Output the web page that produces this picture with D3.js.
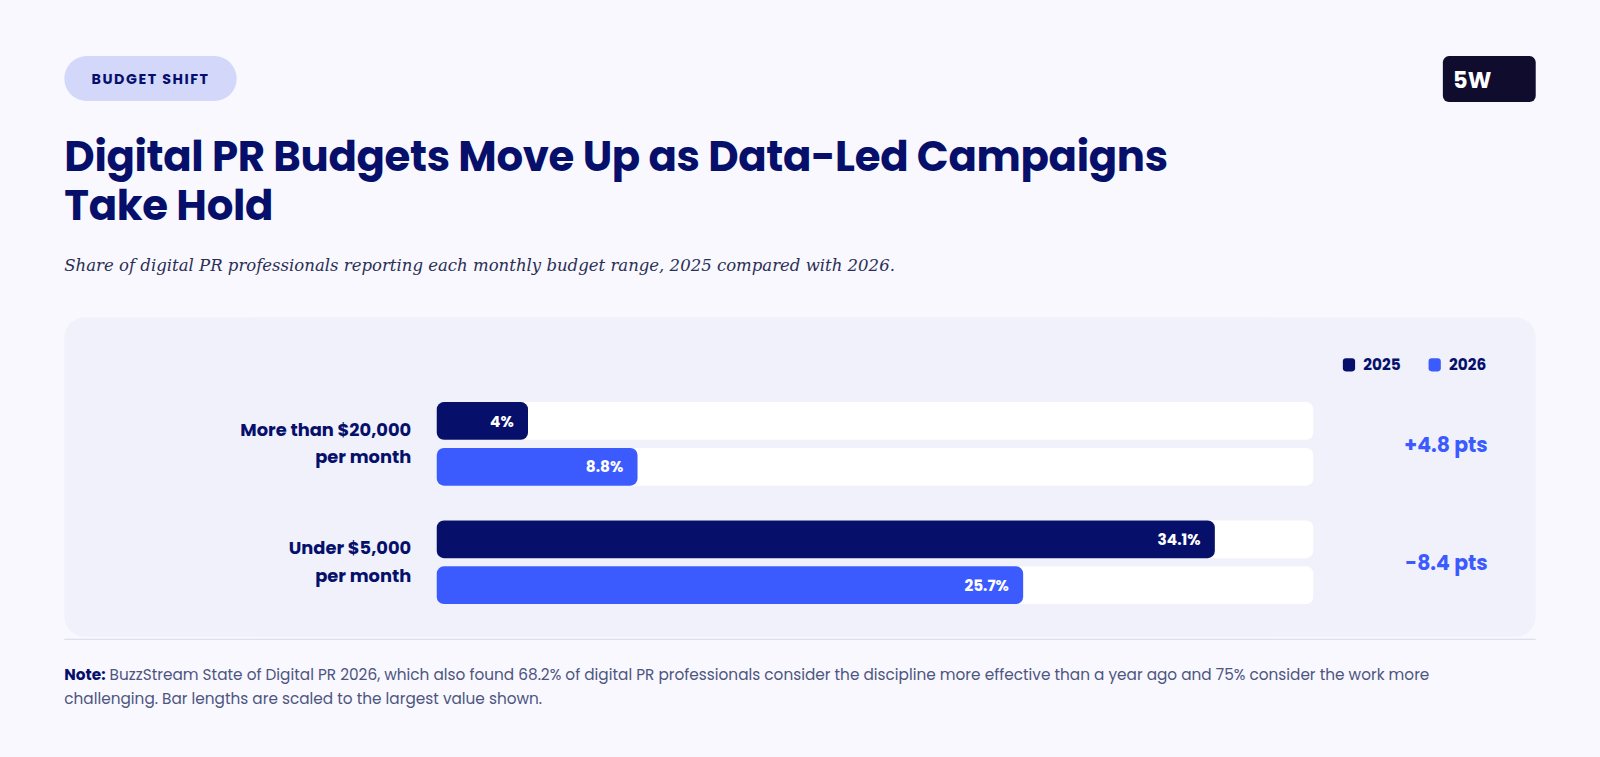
<!DOCTYPE html>
<html><head><meta charset="utf-8">
<script src="https://cdn.jsdelivr.net/npm/d3@7"></script>
<style>
body{margin:0;background:#f8f8fe;overflow:hidden;}
svg{display:block;}
</style></head>
<body><svg id="chart"></svg>
<script>
const categories = ["More than $20,000\nper month", "Under $5,000\nper month"];
const series = ["2025", "2026"];
const values2025 = [4, 34.1];
const values2026 = [8.8, 25.7];
const deltas = ["+4.8 pts", "-8.4 pts"];
const labels2025 = ["4%", "34.1%"];
const labels2026 = ["8.8%", "25.7%"];

const W = 1600, H = 757;
const sans = "Poppins, Inter, 'Noto Sans', sans-serif";
const navy = "#06106b", blue = "#3b5bff";
const root = d3.select("#chart").attr("width", W).attr("height", H);
root.append("rect").attr("width", W).attr("height", H).attr("fill", "#f8f8fe");
// layout was measured on a 1568-wide copy of the picture
const svg = root.append("g").attr("transform", `scale(${1600 / 1568})`);

// pill
svg.append("rect").attr("x", 63).attr("y", 55).attr("width", 169).attr("height", 44).attr("rx", 22).attr("fill", "#d3d8fb");
svg.append("text").attr("x", 147.5).attr("y", 82).attr("text-anchor", "middle")
  .attr("font-family", sans).attr("font-weight", 700).attr("font-size", 14).attr("letter-spacing", 1.5)
  .attr("fill", navy).text("BUDGET SHIFT");

// logo
svg.append("rect").attr("x", 1414).attr("y", 55).attr("width", 91).attr("height", 45).attr("rx", 6).attr("fill", "#0f0c2d");
svg.append("text").attr("x", 1424).attr("y", 86).attr("font-family", sans).attr("font-weight", 700)
  .attr("font-size", 22).attr("fill", "#fff").text("5W");

// title
const title = svg.append("text").attr("font-family", sans).attr("font-weight", 700).attr("font-size", 41)
  .attr("fill", navy).attr("letter-spacing", -0.3);
title.append("tspan").attr("x", 63).attr("y", 168).text("Digital PR Budgets Move Up as Data-Led Campaigns");
title.append("tspan").attr("x", 63).attr("y", 216).text("Take Hold");

svg.append("text").attr("x", 63).attr("y", 266).attr("font-family", "'DejaVu Serif', serif")
  .attr("font-style", "italic").attr("font-size", 16.2).attr("fill", "#2b2f55")
  .text("Share of digital PR professionals reporting each monthly budget range, 2025 compared with 2026.");

// panel
svg.append("rect").attr("x", 63).attr("y", 311).attr("width", 1442).attr("height", 313).attr("rx", 20).attr("fill", "#f0f1fb");

// legend
const leg = svg.append("g").attr("font-family", sans).attr("font-weight", 700).attr("font-size", 15).attr("fill", navy);
[[1316, navy, series[0]], [1400, blue, series[1]]].forEach(([x, c, t]) => {
  leg.append("rect").attr("x", x).attr("y", 351).attr("width", 12).attr("height", 13).attr("rx", 3).attr("fill", c);
  leg.append("text").attr("x", x + 20).attr("y", 363).text(t);
});

const x = d3.scaleLinear().domain([0, d3.max(values2025.concat(values2026)) * 1.1265]).range([428, 1287]);
const y = d3.scaleBand().domain(d3.range(categories.length)).range([394, 592]).paddingInner(0.293).paddingOuter(0);
const barH = 37, gap = 8;

categories.forEach((cat, i) => {
  const y0 = y(i);
  const rows = [[values2025[i], labels2025[i], navy, y0], [values2026[i], labels2026[i], blue, y0 + barH + gap]];
  rows.forEach(([v, l, c, yy]) => {
    svg.append("rect").attr("x", x(0)).attr("y", yy).attr("width", x.range()[1] - x(0)).attr("height", barH).attr("rx", 7).attr("fill", "#fff");
    svg.append("rect").attr("x", x(0)).attr("y", yy).attr("width", x(v) - x(0)).attr("height", barH).attr("rx", 7).attr("fill", c);
    svg.append("text").attr("x", x(v) - 14).attr("y", yy + barH / 2 + 5.5).attr("text-anchor", "end")
      .attr("font-family", sans).attr("font-weight", 700).attr("font-size", 15).attr("fill", "#fff").text(l);
  });
  const lines = cat.split("\n");
  const t = svg.append("text").attr("text-anchor", "end").attr("font-family", sans).attr("font-weight", 700)
    .attr("font-size", 17.5).attr("fill", navy);
  lines.forEach((ln, k) => t.append("tspan").attr("x", 403).attr("y", y0 + 33 + k * 27).text(ln));
  svg.append("text").attr("x", 1458).attr("y", y0 + 49).attr("text-anchor", "end").attr("font-family", sans)
    .attr("font-weight", 700).attr("font-size", 20).attr("fill", blue).text(deltas[i]);
});

svg.append("line").attr("x1", 63).attr("x2", 1505).attr("y1", 626.5).attr("y2", 626.5).attr("stroke", "#d8d9e6");

const note = svg.append("text").attr("font-family", sans).attr("font-size", 15).attr("fill", "#4d5580");
const l1 = note.append("tspan").attr("x", 63).attr("y", 666);
l1.append("tspan").attr("font-weight", 700).attr("fill", navy).text("Note:");
l1.append("tspan").text(" BuzzStream State of Digital PR 2026, which also found 68.2% of digital PR professionals consider the discipline more effective than a year ago and 75% consider the work more");
note.append("tspan").attr("x", 63).attr("y", 690).text("challenging. Bar lengths are scaled to the largest value shown.");
</script></body></html>
